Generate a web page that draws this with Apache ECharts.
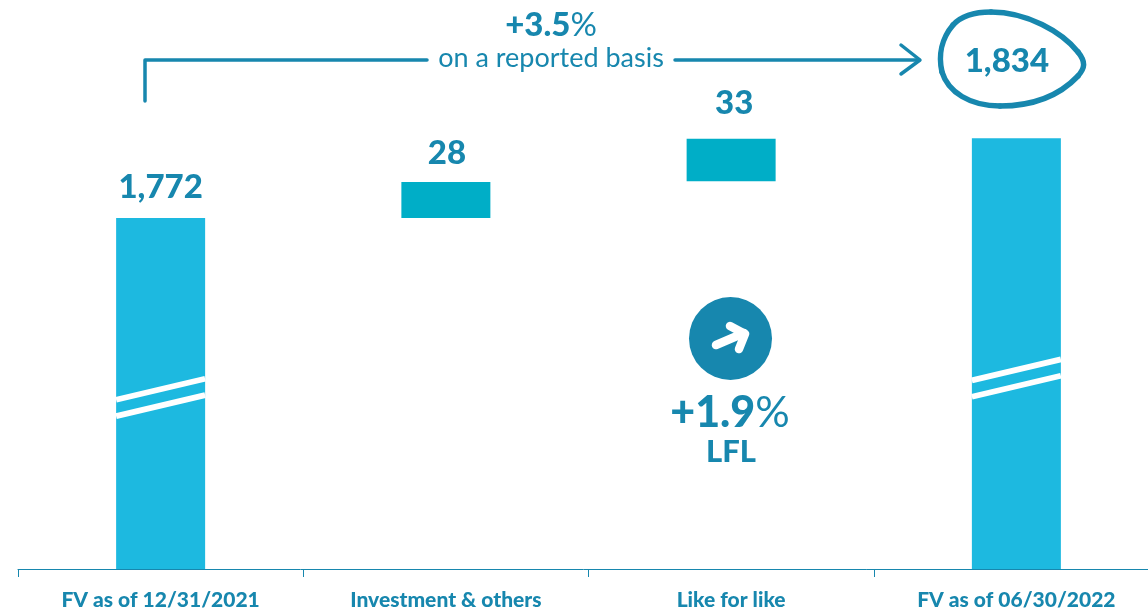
<!DOCTYPE html>
<html><head><meta charset="utf-8">
<style>html,body{margin:0;padding:0;background:#fff;overflow:hidden}#c{width:1148px;height:608px}</style>
<script src="https://cdn.jsdelivr.net/npm/echarts@6/dist/echarts.min.js"></script>
</head><body><div id="c"></div>
<script>
const categories = ['FV as of 12/31/2021','Investment & others','Like for like','FV as of 06/30/2022'];
const totals = [1772,null,null,1834];
const bases = [null,1772,1800.5,null];
const deltas = [null,28,33,null];
const breakValues = [[0,1633],[3,1648]];
const FONT='Lato', INK='#1787AE', BAR=89;
const HEAVY=900;
const labelShift = [[0,0],[1,2],[3,-5],[-9.5,-46]];

const chart = echarts.init(document.getElementById('c'),null,{renderer:'canvas'});
const valueLabel = {show:true,position:'top',distance:14,color:INK,fontFamily:FONT,fontWeight:HEAVY,fontSize:33,
  formatter:p=>p.value==null?'':Number(p.value).toLocaleString('en-US')};
function withShift(arr){return arr.map((v,i)=>v==null?null:{value:v,label:{offset:labelShift[i]}});}

function txt(x,y,text,size,weight,extra){return {type:'text',x,y,silent:true,z:20,style:Object.assign({text,fill:INK,fontFamily:FONT,fontSize:size,fontWeight:weight,align:'center',verticalAlign:'middle'},extra||{})};}
function stroke(shape,type,w,color,extra){return {type,shape,silent:true,z:18,style:Object.assign({stroke:color||INK,lineWidth:w,fill:'none',lineCap:'round',lineJoin:'round'},extra||{})};}
function blob(x1,y1,a,b,c,d,x2,y2){return stroke({x1,y1,cpx1:a,cpy1:b,cpx2:c,cpy2:d,x2,y2},'bezierCurve',5.5);}

chart.setOption({
  animation:false,
  backgroundColor:'#fff',
  grid:{left:18,top:53,width:1141,height:516,containLabel:false,outerBoundsMode:'none'},
  xAxis:{type:'category',data:categories,boundaryGap:true,
    axisLine:{show:true,lineStyle:{color:INK,width:1}},
    axisTick:{show:true,length:8,alignWithLabel:false,lineStyle:{color:INK,width:1}},
    axisLabel:{interval:0,margin:21,color:INK,fontFamily:FONT,fontWeight:HEAVY,fontSize:21}},
  yAxis:{type:'value',min:1500,max:1900,show:false,splitLine:{show:false}},
  series:[
    {type:'bar',stack:'w',barWidth:BAR,data:bases,itemStyle:{color:'transparent'},silent:true},
    {type:'bar',stack:'w',barWidth:BAR,data:withShift(deltas),itemStyle:{color:'#00AEC7'},label:valueLabel},
    {type:'bar',stack:'w',barWidth:BAR,data:withShift(totals),itemStyle:{color:'#1DB9E0'},label:valueLabel},
    {type:'custom',data:breakValues,z:5,silent:true,encode:{x:0,y:1},clip:false,
      renderItem(params,api){
        const c=api.coord([api.value(0),api.value(1)]);
        const h=BAR/2, rise=10.5, gap=8.15;
        const band=dy=>({type:'line',shape:{x1:c[0]-h,y1:c[1]+rise+dy,x2:c[0]+h,y2:c[1]-rise+dy},
          style:{stroke:'#fff',lineWidth:5.8,lineCap:'butt'}});
        return {type:'group',children:[band(-gap),band(gap)]};
      }}
  ],
  graphic:[
    stroke({points:[[145,101],[145,60],[427,60]]},'polyline',3.5),
    stroke({x1:675,y1:60,x2:919,y2:60},'line',3.5),
    stroke({points:[[901,45],[920,60],[901,74]]},'polyline',3.5),
    blob(991,12,1027,12,1062,32,1078,52),
    blob(1078,52,1086,62,1085,68,1078,76),
    blob(1078,76,1060,95,1035,106,1000,106),
    blob(1000,106,970,106,948,92,942,72),
    blob(942,72,938,55,942,38,953,25),
    blob(953,25,962,15,975,12,991,12),
    {type:'circle',silent:true,z:18,shape:{cx:730.5,cy:338.5,r:41.5},style:{fill:INK}},
    stroke({x1:716,y1:345,x2:744,y2:333},'line',8.5,'#fff',{}),
    stroke({points:[[730,326],[745,334],[739,349]]},'polyline',8.5,'#fff',{}),
    {type:'text',x:551,y:25,silent:true,z:20,style:{
      text:'{b|+3.5}{r|%}',align:'center',verticalAlign:'middle',
      rich:{b:{fontFamily:FONT,fontWeight:HEAVY,fontSize:33,fill:INK,color:INK},r:{fontFamily:FONT,fontWeight:'normal',fontSize:33,fill:INK,color:INK}}}},
    txt(551,58,'on a reported basis',27,'normal'),
    {type:'text',x:730,y:413,silent:true,z:20,style:{
      text:'{b|+1.9}{r|%}',align:'center',verticalAlign:'middle',
      rich:{b:{fontFamily:FONT,fontWeight:HEAVY,fontSize:43,fill:INK,color:INK},r:{fontFamily:FONT,fontWeight:'normal',fontSize:43,fill:INK,color:INK}}}},
    txt(731,452,'LFL',31,HEAVY)
  ]
});
</script></body></html>
